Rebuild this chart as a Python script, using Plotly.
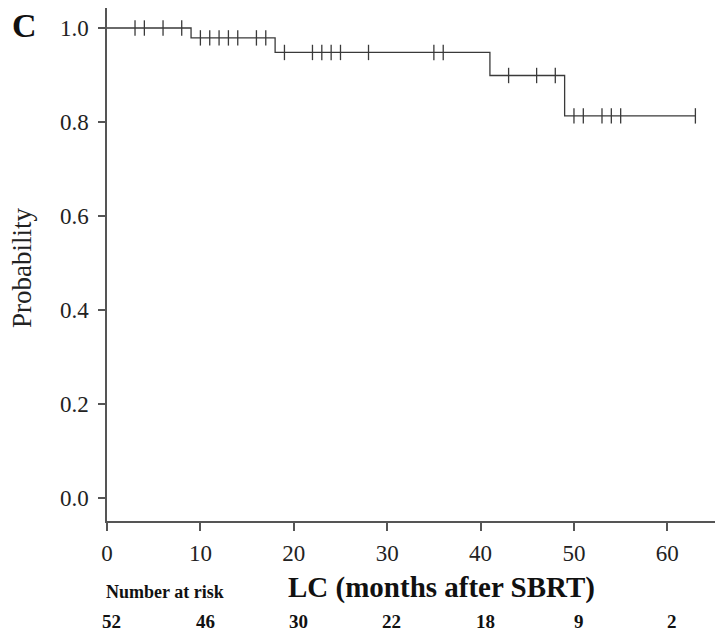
import plotly.graph_objects as go

# Kaplan-Meier step data
step_times = [0, 9, 18, 41, 49, 63]
step_surv = [1.0, 0.979, 0.948, 0.899, 0.813, 0.813]

# censor marks (months)
censor_times = [3, 4, 6, 8, 10, 11, 12, 13, 14, 16, 17, 19, 22, 23, 24, 25, 28,
                35, 36, 43, 46, 48, 50, 51, 53, 54, 55, 63]

# number at risk table
risk_times = [0, 10, 20, 30, 40, 50, 60]
risk_counts = [52, 46, 30, 22, 18, 9, 2]

x_ticks = [0, 10, 20, 30, 40, 50, 60]
y_ticks = [0.0, 0.2, 0.4, 0.6, 0.8, 1.0]


def surv_at(t):
    s = step_surv[0]
    for tt, ss in zip(step_times, step_surv):
        if t >= tt:
            s = ss
    return s


censor_surv = [surv_at(t) for t in censor_times]

LINE = "#3a3a3a"
SERIF = "Liberation Serif, Times New Roman, serif"

fig = go.Figure()
fig.add_trace(go.Scatter(
    x=step_times, y=step_surv, mode="lines", line_shape="hv",
    line=dict(color=LINE, width=1.3), showlegend=False, hoverinfo="skip"))
fig.add_trace(go.Scatter(
    x=censor_times, y=censor_surv, mode="markers",
    marker=dict(symbol="line-ns", size=11, line=dict(color=LINE, width=1.3)),
    showlegend=False, hoverinfo="skip"))

# page has an 8px body margin: figure is sized/offset to compensate
OFF = 8
W, H = 724 - OFF, 635 - OFF
ml, mr, mt, mb = 99, 9, 0, 114

fig.update_layout(
    width=W, height=H,
    margin=dict(l=ml, r=mr, t=mt, b=mb),
    paper_bgcolor="white", plot_bgcolor="white",
    font=dict(family=SERIF, color="#222", size=23),
    xaxis=dict(range=[0, 65.1], tickvals=x_ticks, ticktext=[str(v) for v in x_ticks],
               showgrid=False, zeroline=False, showline=True, linecolor="#555",
               linewidth=1.5, ticks="outside", ticklen=8, tickwidth=1.5,
               tickcolor="#555", tickfont=dict(family=SERIF, size=23, color="#222"),
               ticklabelstandoff=3),
    yaxis=dict(range=[-0.049, 1.0426], tickvals=y_ticks,
               ticktext=[f"{v:.1f}" for v in y_ticks],
               showgrid=False, zeroline=False, showline=True, linecolor="#555",
               linewidth=1.5, ticks="outside", ticklen=7, tickwidth=1.5,
               tickcolor="#555", tickfont=dict(family=SERIF, size=23, color="#222"),
               ticklabelstandoff=5),
)

pw = W - ml - mr
ph = H - mt - mb


def px(xpix):
    return (xpix - OFF - ml) / pw


def py(ypix):
    return (H - mb - (ypix - OFF)) / ph


ann = []
ann.append(dict(text="<b>C</b>", x=px(10), y=py(25), xref="paper", yref="paper",
                xanchor="left", yanchor="middle", showarrow=False,
                font=dict(family=SERIF, size=34, color="#111")))
ann.append(dict(text="Probability", x=px(22), y=py(268), xref="paper", yref="paper",
                xanchor="center", yanchor="middle", textangle=-90, showarrow=False,
                font=dict(family=SERIF, size=27, color="#222")))
ann.append(dict(text="<b>LC (months after SBRT)</b>", x=px(441), y=py(587),
                xref="paper", yref="paper", xanchor="center", yanchor="middle",
                showarrow=False, font=dict(family=SERIF, size=29, color="#111")))
ann.append(dict(text="<b>Number at risk</b>", x=px(104), y=py(592),
                xref="paper", yref="paper", xanchor="left", yanchor="middle",
                showarrow=False, font=dict(family=SERIF, size=18, color="#111")))
for t, c in zip(risk_times, risk_counts):
    ann.append(dict(text=f"<b>{c}</b>", x=t + 0.5, y=py(621), xref="x", yref="paper",
                    xanchor="center", yanchor="middle", showarrow=False,
                    font=dict(family=SERIF, size=19, color="#111")))
fig.update_layout(annotations=ann)

fig.write_html("out.html")
